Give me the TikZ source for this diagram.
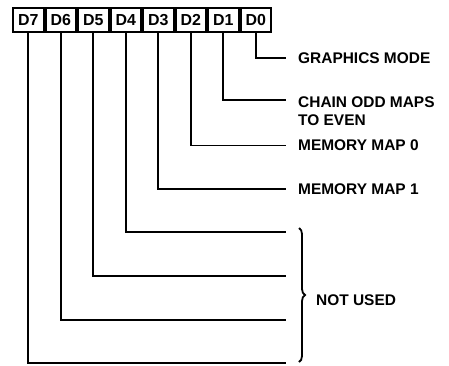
\documentclass[tikz,border=0pt]{standalone}
\usepackage{fontspec}
\setmainfont{Liberation Sans}
\usetikzlibrary{positioning, decorations.pathreplacing}

\begin{document}
\begin{tikzpicture}[x=1bp, y=-1bp, line cap=butt,
  bitbox/.style={draw, line width=2bp, minimum width=30.5bp, minimum height=24bp,
    inner sep=0pt, font=\bfseries\fontsize{16}{18}\selectfont},
  wire/.style={line width=1.8bp},
  lbl/.style={anchor=west, inner xsep=12bp, inner ysep=0pt, align=left,
    font=\bfseries\fontsize{15.5}{17.5}\selectfont}]
  \useasboundingbox (0,0) rectangle (449,365);

  % register bits D7 ... D0
  \node[bitbox] (d7) at (28.25,20) {D7};
  \foreach \i [evaluate=\i as \j using int(\i+1)] in {6,...,0}
    \node[bitbox, right=0pt of d\j] (d\i) {D\i};

  % bit meanings
  \node[lbl] (gfx) at (286,58) {GRAPHICS MODE};
  \node[lbl, anchor=north west] (chain) at (286,97) {CHAIN ODD MAPS\\TO EVEN};
  \node[lbl] (map0) at (286,145.5) {MEMORY MAP 0};
  \node[lbl] (map1) at (286,189) {MEMORY MAP 1};

  \coordinate (nu4) at (286,232);
  \coordinate (nu5) at (286,276);
  \coordinate (nu6) at (286,320);
  \coordinate (nu7) at (286,363);

  \draw[wire] (d0.south) |- (gfx.west);
  \draw[wire] (d1.south) |- ([yshift=-3bp]chain.north west);
  \draw[wire] (d2.south) |- (map0.west);
  \draw[wire] (d3.south) |- (map1.west);
  \draw[wire] (d4.south) |- (nu4);
  \draw[wire] (d5.south) |- (nu5);
  \draw[wire] (d6.south) |- (nu6);
  \draw[wire] (d7.south) |- (nu7);

  % unused bits
  \draw[line width=1.8bp, decorate, decoration={brace, amplitude=6bp}] (299,228) -- (299,362);
  \node[lbl, inner xsep=0pt] (unused) at (316,300) {NOT USED};
\end{tikzpicture}
\end{document}
